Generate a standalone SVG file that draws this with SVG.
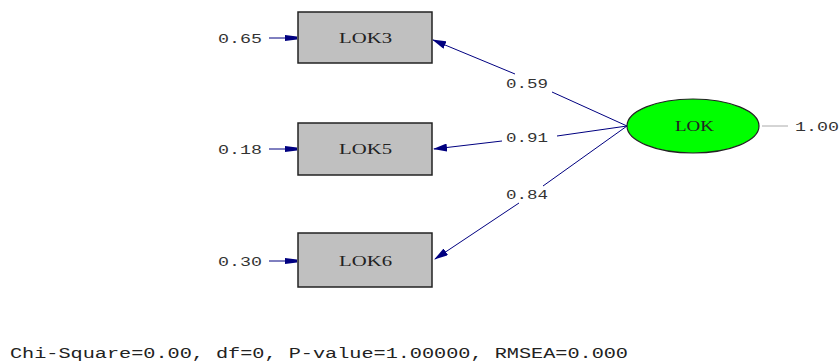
<svg xmlns="http://www.w3.org/2000/svg" width="839" height="362" viewBox="0 0 839 362">
<style>
.box{fill:#c0c0c0;stroke:#222;stroke-width:1.5}
.lat{fill:#00ff00;stroke:#222;stroke-width:1.2}
.t{font-family:"Liberation Serif",serif;font-size:15px;fill:#222}
.n{font-family:"Liberation Mono",monospace;font-size:13px;fill:#333}
.c{stroke:#000080;stroke-width:1;fill:none}
</style>
<defs>
<marker id="ah" markerWidth="14" markerHeight="8" refX="13" refY="4" orient="auto" markerUnits="userSpaceOnUse">
<path d="M0,0 L14,4 L0,8 z" fill="#000080"/>
</marker>
<marker id="eh" markerWidth="12" markerHeight="6" refX="12" refY="3" orient="auto" markerUnits="userSpaceOnUse">
<path d="M0,0 L12,1.5 L12,4.5 L0,6 z" fill="#000080"/>
</marker>
</defs>
<g id="connectors">
<path class="c" d="M627,126 L552,92" />
<path class="c" d="M515,74 L433,40" marker-end="url(#ah)"/>
<path class="c" d="M627,126 L557,136"/>
<path class="c" d="M502,141 L434,149" marker-end="url(#ah)"/>
<path class="c" d="M627,126 L543,186"/>
<path class="c" d="M519,203 L435,259" marker-end="url(#ah)"/>
<path class="c" d="M269,38 L297,38" marker-end="url(#eh)"/>
<path class="c" d="M269,149 L297,149" marker-end="url(#eh)"/>
<path class="c" d="M269,261 L297,261" marker-end="url(#eh)"/>
<path d="M762,126 L788,126" stroke="#aaa" stroke-width="1"/>
<text class="n" x="506" y="88" textLength="42" lengthAdjust="spacingAndGlyphs">0.59</text>
<text class="n" x="506" y="142" textLength="42" lengthAdjust="spacingAndGlyphs">0.91</text>
<text class="n" x="506" y="199" textLength="42" lengthAdjust="spacingAndGlyphs">0.84</text>
</g>
<g id="LOK3">
<rect class="box" x="298" y="12" width="134" height="51"/>
<text class="t" x="339" y="43" textLength="53" lengthAdjust="spacingAndGlyphs">LOK3</text>
<text class="n" x="218" y="43" textLength="44" lengthAdjust="spacingAndGlyphs">0.65</text>
</g>
<g id="LOK5">
<rect class="box" x="298" y="123" width="134" height="52"/>
<text class="t" x="339" y="154" textLength="53" lengthAdjust="spacingAndGlyphs">LOK5</text>
<text class="n" x="218" y="154" textLength="44" lengthAdjust="spacingAndGlyphs">0.18</text>
</g>
<g id="LOK6">
<rect class="box" x="298" y="233" width="134" height="54"/>
<text class="t" x="339" y="266" textLength="53" lengthAdjust="spacingAndGlyphs">LOK6</text>
<text class="n" x="218" y="266" textLength="44" lengthAdjust="spacingAndGlyphs">0.30</text>
</g>
<g id="LOK">
<ellipse class="lat" cx="693" cy="126" rx="66" ry="27"/>
<text class="t" x="675" y="131" textLength="39" lengthAdjust="spacingAndGlyphs">LOK</text>
<text class="n" x="795" y="131" textLength="44" lengthAdjust="spacingAndGlyphs">1.00</text>
</g>
<text class="n" x="10" y="358" textLength="618" lengthAdjust="spacingAndGlyphs" style="font-size:14px;fill:#222">Chi-Square=0.00, df=0, P-value=1.00000, RMSEA=0.000</text>
</svg>
